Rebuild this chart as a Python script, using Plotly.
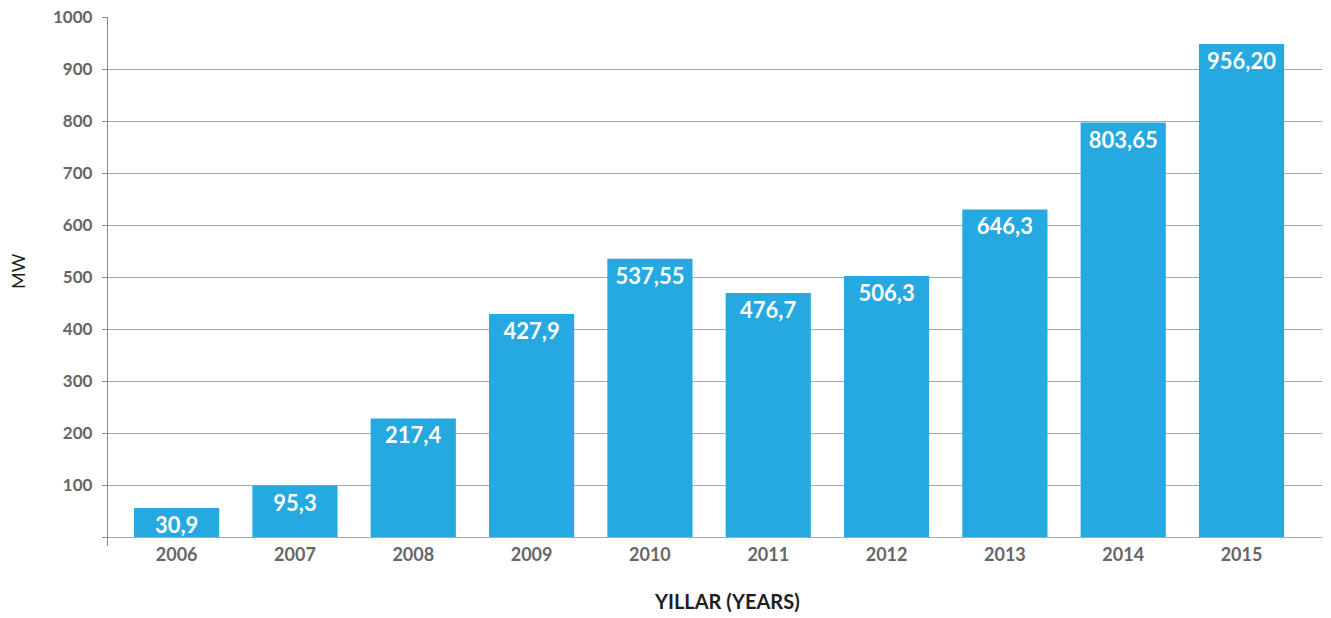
import plotly.graph_objects as go

years = [2006, 2007, 2008, 2009, 2010, 2011, 2012, 2013, 2014, 2015]
# bar heights as drawn in the picture (MW)
bar_heights = [56, 99, 228, 429, 535, 469, 502, 630, 797, 948]
# value labels printed on the bars
bar_labels = ["30,9", "95,3", "217,4", "427,9", "537,55", "476,7", "506,3", "646,3", "803,65", "956,20"]
y_ticks = [0, 100, 200, 300, 400, 500, 600, 700, 800, 900, 1000]
y_ticktext = ["", "100", "200", "300", "400", "500", "600", "700", "800", "900", "1000"]

bar_color = "#25A9E0"
tick_gray = "#666666"
grid_gray = "#a8a8a8"
font_family = "Lato, 'Open Sans', sans-serif"

fig = go.Figure(
    go.Bar(
        x=years,
        y=bar_heights,
        text=bar_labels,
        width=0.72,
        marker=dict(color=bar_color, line=dict(width=0)),
        textposition="inside",
        insidetextanchor="end",
        textangle=0,
        textfont=dict(family=font_family, size=22, color="white", weight="bold"),
        cliponaxis=False,
        hoverinfo="skip",
    )
)

# the page body adds an 8px offset, so the figure is sized 8px smaller
fig.update_layout(
    width=1323,
    height=610,
    margin=dict(l=100, r=9, t=9, b=72, autoexpand=False),
    paper_bgcolor="white",
    plot_bgcolor="white",
    showlegend=False,
    uniformtext=dict(mode="show", minsize=22),
)

fig.update_xaxes(
    range=[2005.42, 2015.68],
    tickmode="array",
    tickvals=years,
    ticktext=[str(y) for y in years],
    showgrid=False,
    zeroline=False,
    showline=False,
    ticks="",
    automargin=False,
    tickfont=dict(family=font_family, size=18, color=tick_gray, weight="bold"),
    ticklabelstandoff=-4,
)

fig.update_yaxes(
    range=[-17.3, 1000],
    tickmode="array",
    tickvals=y_ticks,
    ticktext=y_ticktext,
    showgrid=True,
    gridcolor=grid_gray,
    gridwidth=1.3,
    zeroline=False,
    showline=True,
    linecolor="#8a8a8a",
    linewidth=1.3,
    ticks="outside",
    ticklen=5,
    tickcolor="#8a8a8a",
    tickwidth=1.3,
    automargin=False,
    ticklabeloverflow="allow",
    tickfont=dict(family=font_family, size=17, color=tick_gray, weight="bold"),
    ticklabelstandoff=6,
)

fig.add_annotation(
    text="YILLAR (YEARS)",
    xref="paper", yref="paper",
    x=0.51, y=0,
    xanchor="center", yanchor="middle",
    yshift=-55,
    showarrow=False,
    font=dict(family=font_family, size=20, color="#1e1e1e", weight="bold"),
)

fig.add_annotation(
    text="MW",
    xref="paper", yref="paper",
    x=0, y=0.52,
    xanchor="center", yanchor="middle",
    xshift=-90,
    textangle=-90,
    showarrow=False,
    font=dict(family=font_family, size=18, color="#1e1e1e"),
)

fig.write_html("out.html")
